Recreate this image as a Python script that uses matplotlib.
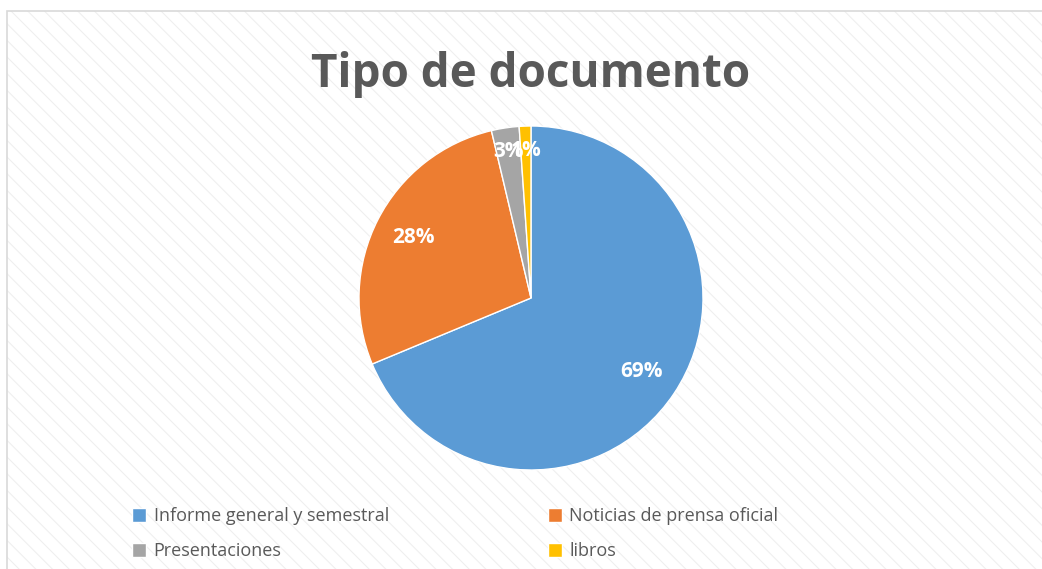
import matplotlib.pyplot as plt
from matplotlib.patches import Rectangle
import numpy as np

# ─── Data ──────────────────────────────────────────────────────────────────────
categories = ["Informe general y semestral", "Noticias de prensa oficial",
              "Presentaciones", "libros"]
shares = [68.8, 27.6, 2.6, 1.1]
colors = ["#5B9BD5", "#ED7D31", "#A5A5A5", "#FFC000"]
title = "Tipo de documento"

plt.rcParams["font.family"] = ["Open Sans", "DejaVu Sans"]
plt.rcParams["hatch.linewidth"] = 0.8

W, H = 1042, 569
fig = plt.figure(figsize=(W / 100, H / 100), dpi=100)

# chart-area background: faint diagonal stripes + light border
bg = Rectangle((7 / W, 0), 1, 1 - 11 / H, transform=fig.transFigure,
               facecolor="white", edgecolor="#efefef", hatch="\\\\",
               linewidth=0, zorder=-2)
fig.patches.append(bg)
frame = Rectangle((7 / W, -0.01), 1, 1.01 - 11 / H, transform=fig.transFigure,
                  facecolor="none", edgecolor="#d9d9d9", linewidth=1.2, zorder=-1)
fig.patches.append(frame)

# pie axes: centre (531, 298) px, radius 172 px
r = 172
ax = fig.add_axes([(531 - r) / W, (H - 298 - r) / H, 2 * r / W, 2 * r / H])
ax.set_zorder(2)
wedges, texts, autotexts = ax.pie(
    shares, colors=colors, startangle=90, counterclock=False,
    autopct="%.0f%%", pctdistance=0.77,
    wedgeprops=dict(edgecolor="white", linewidth=1),
    textprops=dict(color="white", fontsize=15, fontweight="bold"))
ax.set_xlim(-1, 1)
ax.set_ylim(-1, 1)
ax.set_aspect("auto")

# small slices: labels pushed nearer the rim
for w, t in zip(wedges, autotexts):
    if (w.theta2 - w.theta1) < 20:
        mid = np.deg2rad((w.theta1 + w.theta2) / 2)
        t.set_position((0.86 * np.cos(mid), 0.86 * np.sin(mid)))

fig.text(531 / W, 1 - 75 / H, title, ha="center", va="center",
         fontsize=33, fontweight="bold", color="#595959", zorder=3)

# legend: row-wise order Informe, Noticias / Presentaciones, libros
order = [0, 2, 1, 3]
leg = fig.legend([wedges[i] for i in order], [categories[i] for i in order],
                 ncol=2, loc="upper left", bbox_to_anchor=(132 / W, 1 - 507 / H),
                 frameon=False, fontsize=13, labelcolor="#595959",
                 handlelength=0.8, handleheight=0.85, handletextpad=0.4,
                 columnspacing=8.8, labelspacing=0.95, borderpad=0,
                 borderaxespad=0)
leg.set_zorder(3)

fig.savefig("out.png", dpi=100)
